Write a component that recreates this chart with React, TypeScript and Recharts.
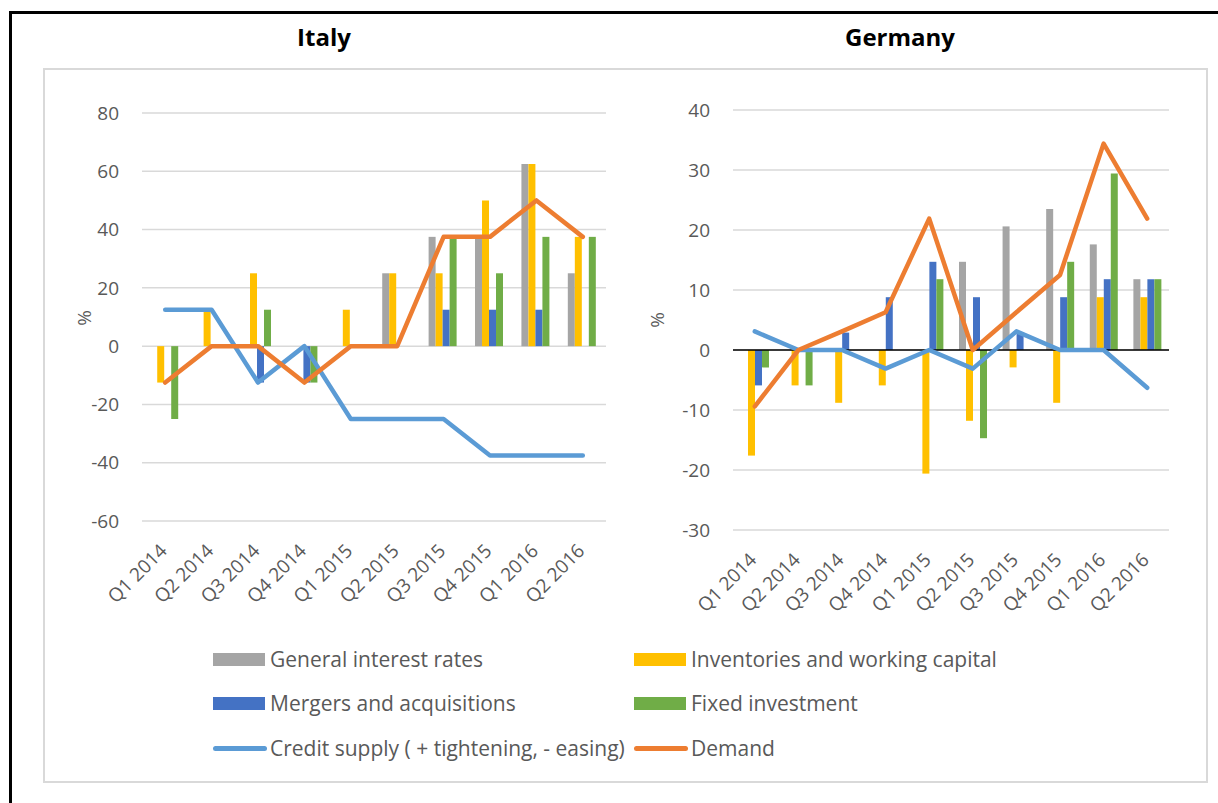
import React from 'react';
import {
    ComposedChart,
    Bar,
    Line,
    XAxis,
    YAxis,
    CartesianGrid,
    ReferenceLine,
} from 'recharts';

const quarters = ['Q1 2014', 'Q2 2014', 'Q3 2014', 'Q4 2014', 'Q1 2015', 'Q2 2015', 'Q3 2015', 'Q4 2015', 'Q1 2016', 'Q2 2016'];

// Italy
const itGeneral = [0, 0, 0, 0, 0, 25, 37.5, 37.5, 62.5, 25];
const itInventories = [-12.5, 12.5, 25, 0, 12.5, 25, 25, 50, 62.5, 37.5];
const itMergers = [0, 0, -12.5, -12.5, 0, 0, 12.5, 12.5, 12.5, 0];
const itFixed = [-25, 0, 12.5, -12.5, 0, 0, 37.5, 25, 37.5, 37.5];
const itCredit = [12.5, 12.5, -12.5, 0, -25, -25, -25, -37.5, -37.5, -37.5];
const itDemand = [-12.5, 0, 0, -12.5, 0, 0, 37.5, 37.5, 50, 37.5];
const itTicks = [-60, -40, -20, 0, 20, 40, 60, 80];

// Germany
const deGeneral = [0, 0, 0, 0, 0, 14.7, 20.6, 23.5, 17.6, 11.8];
const deInventories = [-17.6, -5.9, -8.8, -5.9, -20.6, -11.8, -2.9, -8.8, 8.8, 8.8];
const deMergers = [-5.9, 0, 2.9, 8.8, 14.7, 8.8, 2.9, 8.8, 11.8, 11.8];
const deFixed = [-2.9, -5.9, 0, 0, 11.8, -14.7, 0, 14.7, 29.4, 11.8];
const deCredit = [3.1, 0, 0, -3.1, 0, -3.1, 3.1, 0, 0, -6.3];
const deDemand = [-9.4, 0, 3.1, 6.3, 21.9, 0, 6.3, 12.5, 34.4, 21.9];
const deTicks = [-30, -20, -10, 0, 10, 20, 30, 40];

const FONT = "'Open Sans', sans-serif";
const TEXT = '#595959';
const GRAY = '#A5A5A5';
const YELLOW = '#FFC000';
const BLUE = '#4472C4';
const GREEN = '#70AD47';
const LIGHTBLUE = '#5B9BD5';
const ORANGE = '#ED7D31';

const buildRows = (g: number[], inv: number[], m: number[], f: number[], c: number[], d: number[]) =>
    quarters.map((q, i) => ({
        name: q,
        general: g[i],
        inventories: inv[i],
        mergers: m[i],
        fixed: f[i],
        credit: c[i],
        demand: d[i],
    }));

const italyData = buildRows(itGeneral, itInventories, itMergers, itFixed, itCredit, itDemand);
const germanyData = buildRows(deGeneral, deInventories, deMergers, deFixed, deCredit, deDemand);

const QuarterTick = (props: any) => {
    const {x, y, payload} = props;
    return (
        <g transform={`translate(${x + 3},${y + 31}) rotate(-45)`}>
            <text x={0} y={0} textAnchor="end" fill={TEXT} fontSize={19} fontFamily={FONT}>
                {payload.value}
            </text>
        </g>
    );
};

interface PanelProps {
    data: any[];
    ticks: number[];
    width: number;
    height: number;
    margin: {top: number; right: number; bottom: number; left: number};
    yWidth: number;
    gap: string;
    zeroLine?: boolean;
}

const Panel: React.FC<PanelProps> = ({data, ticks, width, height, margin, yWidth, gap, zeroLine}) => (
    <ComposedChart width={width} height={height} data={data} margin={margin} barCategoryGap={gap} barGap={0}>
        <CartesianGrid vertical={false} stroke="#d9d9d9" strokeWidth={1.5}/>
        <XAxis
            dataKey="name"
            axisLine={false}
            tickLine={false}
            tickSize={0}
            tickMargin={0}
            height={80}
            interval={0}
            tick={<QuarterTick/>}
        />
        <YAxis
            type="number"
            domain={[ticks[0], ticks[ticks.length - 1]]}
            ticks={ticks}
            axisLine={false}
            tickLine={false}
            tickSize={0}
            tickMargin={23}
            width={yWidth}
            tick={{fill: TEXT, fontSize: 19, fontFamily: FONT}}
        />
        <Bar dataKey="general" fill={GRAY} isAnimationActive={false}/>
        <Bar dataKey="inventories" fill={YELLOW} isAnimationActive={false}/>
        <Bar dataKey="mergers" fill={BLUE} isAnimationActive={false}/>
        <Bar dataKey="fixed" fill={GREEN} isAnimationActive={false}/>
        {zeroLine && <ReferenceLine y={0} stroke="#000" strokeWidth={1.5}/>}
        <Line type="linear" dataKey="credit" stroke={LIGHTBLUE} strokeWidth={4.5} dot={false}
              strokeLinecap="round" strokeLinejoin="round" isAnimationActive={false}/>
        <Line type="linear" dataKey="demand" stroke={ORANGE} strokeWidth={4.5} dot={false}
              strokeLinecap="round" strokeLinejoin="round" isAnimationActive={false}/>
    </ComposedChart>
);

const legendItems = [
    {label: 'General interest rates', color: GRAY, kind: 'bar', left: 213, top: 659},
    {label: 'Inventories and working capital', color: YELLOW, kind: 'bar', left: 634, top: 659},
    {label: 'Mergers and acquisitions', color: BLUE, kind: 'bar', left: 213, top: 703},
    {label: 'Fixed investment', color: GREEN, kind: 'bar', left: 634, top: 703},
    {label: 'Credit supply ( + tightening, - easing)', color: LIGHTBLUE, kind: 'line', left: 213, top: 748},
    {label: 'Demand', color: ORANGE, kind: 'line', left: 634, top: 748},
];

const App: React.FC = () => {
    return (
        <div style={{position: 'absolute', left: 0, top: 0, width: 1218, height: 803, background: '#fff', fontFamily: FONT, overflow: 'hidden'}}>
            <div style={{position: 'absolute', left: 9, top: 11, width: 1209, height: 3, background: '#000'}}/>
            <div style={{position: 'absolute', left: 9, top: 11, width: 3, height: 792, background: '#000'}}/>
            <div style={{position: 'absolute', left: 43, top: 68, width: 1165, height: 715, border: '2px solid #d9d9d9', boxSizing: 'border-box'}}/>

            <div style={{position: 'absolute', left: 224, top: 20, width: 200, textAlign: 'center', fontWeight: 700, fontSize: 24, lineHeight: '34px', color: '#000'}}>Italy</div>
            <div style={{position: 'absolute', left: 800, top: 20, width: 200, textAlign: 'center', fontWeight: 700, fontSize: 24, lineHeight: '34px', color: '#000'}}>Germany</div>

            <div style={{position: 'absolute', left: 43, top: 68}}>
                <Panel data={italyData} ticks={itTicks} width={600} height={560}
                       margin={{top: 45, right: 37, bottom: 27, left: 0}} yWidth={99} gap="17.7%"/>
            </div>
            <div style={{position: 'absolute', left: 640, top: 68}}>
                <Panel data={germanyData} ticks={deTicks} width={560} height={560}
                       margin={{top: 42, right: 31, bottom: 18, left: 0}} yWidth={93} gap="18.3%" zeroLine/>
            </div>

            <div style={{position: 'absolute', left: 64, top: 306, width: 40, height: 24, lineHeight: '24px', textAlign: 'center', fontSize: 19, color: TEXT, transform: 'rotate(-90deg)'}}>%</div>
            <div style={{position: 'absolute', left: 637, top: 308, width: 40, height: 24, lineHeight: '24px', textAlign: 'center', fontSize: 19, color: TEXT, transform: 'rotate(-90deg)'}}>%</div>

            {legendItems.map((it) => (
                <div key={it.label} style={{position: 'absolute', left: it.left, top: it.top - 15, height: 30, display: 'flex', alignItems: 'center', whiteSpace: 'nowrap'}}>
                    {it.kind === 'bar' ? (
                        <div style={{width: 52, height: 13, background: it.color, marginRight: 5}}/>
                    ) : (
                        <div style={{width: 54, height: 5, borderRadius: 3, background: it.color, marginRight: 3}}/>
                    )}
                    <span style={{fontSize: 21, color: TEXT, lineHeight: '30px'}}>{it.label}</span>
                </div>
            ))}
        </div>
    );
};

export default App;
